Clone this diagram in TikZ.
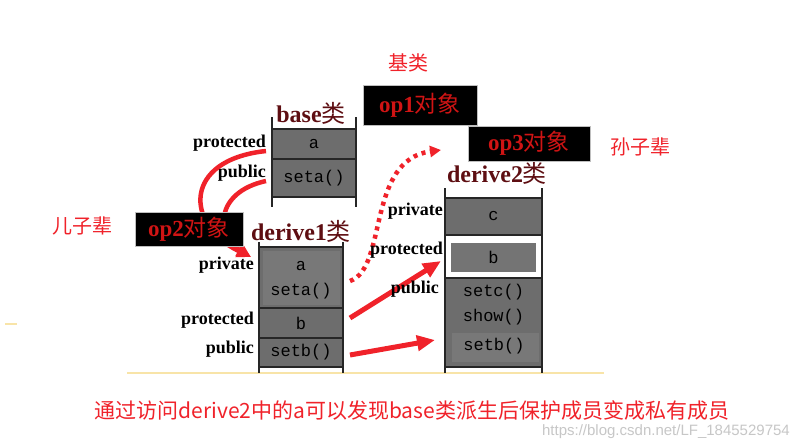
\documentclass[tikz,border=0pt]{standalone}
\usepackage{fontspec}
\setmainfont{Liberation Serif}
\newfontfamily\cjk{Noto Sans CJK SC}
\newfontfamily\monof{Liberation Mono}
\newfontfamily\sansf{Liberation Sans}
\usetikzlibrary{arrows.meta}
\definecolor{cellgray}{HTML}{6D6D6D}
\definecolor{innergray}{HTML}{787878}
\definecolor{maroon}{HTML}{5E0E12}
\definecolor{opred}{HTML}{D01414}
\definecolor{annred}{HTML}{F0222A}
\definecolor{paleyellow}{HTML}{F8E4A8}
\newcommand{\zhm}[1]{{\mdseries\cjk #1}}
\tikzset{
  cell/.style={draw=black!85, line width=2.5pt, fill=cellgray, inner sep=0pt, outer sep=0pt,
    font=\monof\fontsize{17}{19}\selectfont, text=black},
  inner/.style={fill=innergray, draw=none, inner sep=0pt},
  side/.style={line width=2.5pt, black!85},
  title/.style={text=maroon, font=\bfseries\fontsize{24}{26}\selectfont, inner sep=0pt},
  lab/.style={anchor=east, font=\bfseries\fontsize{18}{20}\selectfont, inner sep=0pt},
  opbox/.style={fill=black, draw=gray!50, line width=0.6pt, text=opred, inner sep=0pt,
    font=\bfseries\fontsize{23}{25}\selectfont},
  ann/.style={text=annred, font=\cjk\fontsize{20}{22}\selectfont, inner sep=0pt},
  redarrow/.style={annred, line width=5pt, -{Triangle[length=18pt,width=15pt]}},
  curvearrow/.style={annred, line width=4.5pt, -{Triangle[length=14pt,width=13pt]}},
  dotarrow/.style={annred, line width=4.5pt, dash pattern=on 4pt off 4.5pt, -{Triangle[length=11pt,width=11pt]}},
  txt/.style={inner sep=0pt, font=\monof\fontsize{17}{19}\selectfont, text=black}
}
\begin{document}
\begin{tikzpicture}[x=1pt,y=-1pt]
\useasboundingbox (0,0) rectangle (801,447);
\fill[white] (0,0) rectangle (801,447);

% faint yellow rules
\draw[paleyellow, line width=1.5pt] (127,373) -- (604,373);
\draw[paleyellow, line width=1.2pt] (5,324) -- (17,324);

% ---- base class ----
\node[title] (tbase) at (311,113) {base\zhm{类}};
\node[cell, minimum width=84pt, minimum height=30pt] (ba) at (314,144) {a};
\node[cell, minimum width=84pt, minimum height=38pt] (bseta) at (314,178) {seta()};
\draw[side] (272,117) -- (272,207);
\draw[side] (356,117) -- (356,207);
\node[lab] (lbprot) at (266,143) {protected};
\node[lab] (lbpub) at (266,173) {public};

% ---- derive1 ----
\node[title] (td1) at (301,231) {derive1\zhm{类}};
\node[cell, minimum width=84pt, minimum height=61pt] (d1a) at (301,277.5) {};
\node[inner, minimum width=77pt, minimum height=54pt] (d1in) at (301,278) {};
\node[txt] (d1ta) at (301,266) {a};
\node[txt] (d1tseta) at (301,291) {seta()};
\node[cell, minimum width=84pt, minimum height=30pt] (d1b) at (301,323) {b};
\node[cell, minimum width=84pt, minimum height=29pt] (d1setb) at (301,352.5) {setb()};
\draw[side] (259,242) -- (259,373);
\draw[side] (343,242) -- (343,373);
\node[lab] (l1priv) at (254,265) {private};
\node[lab] (l1prot) at (254,320) {protected};
\node[lab] (l1pub) at (254,349) {public};

% ---- derive2 ----
\node[title] (td2) at (497,173) {derive2\zhm{类}};
\node[cell, minimum width=97pt, minimum height=37pt] (d2c) at (493.5,216.5) {c};
\node[cell, fill=white, minimum width=97pt, minimum height=43pt] (d2w) at (493.5,256.5) {};
\node[inner, fill=cellgray!95!white, minimum width=85pt, minimum height=29pt, txt] (d2b) at (493.5,257.5) {b};
\node[cell, minimum width=97pt, minimum height=89pt] (d2pub) at (493.5,322.5) {};
\node[inner, minimum width=87pt, minimum height=29pt] (d2in) at (495,347.5) {};
\node[txt] (d2setc) at (493.5,292) {setc()};
\node[txt] (d2show) at (493.5,317) {show()};
\node[txt] (d2setb) at (494,346) {setb()};
\draw[side] (445,188) -- (445,373);
\draw[side] (542,188) -- (542,373);

% ---- arrows ----
\coordinate (dotS) at (350,281);
\coordinate (dotE) at (441,150);
\draw[dotarrow] (dotS) .. controls (388,268) and (366,160) .. (dotE);
\coordinate (a1S) at (350,318);
\coordinate (a1E) at (441,261);
\coordinate (a2S) at (350,355);
\coordinate (a2E) at (435,340);
\draw[redarrow] (a1S) -- (a1E);
\draw[redarrow] (a2S) -- (a2E);

\node[lab] (l2priv) at (443,211) {private};
\node[lab] (l2prot) at (443,250) {protected};
\node[lab] (l2pub) at (439,289) {public};

% curved arrows from base to derive1
\coordinate (c1S) at (266,151);
\coordinate (c2S) at (266,181);
\coordinate (cE) at (251,257);
\draw[curvearrow] (c1S) .. controls (182,160) and (185,225) .. (cE);
\draw[curvearrow] (c2S) .. controls (215,192) and (215,235) .. (cE);

% ---- object boxes ----
\node[opbox, minimum width=122pt, minimum height=35pt] (op3) at (529,143.5) {op3\zhm{对象}};
\node[opbox, minimum width=114pt, minimum height=40pt] (op1) at (420,105) {op1\zhm{对象}};
\node[opbox, minimum width=108pt, minimum height=34pt] (op2) at (189,229) {op2\zhm{对象}};

% ---- annotations ----
\node[ann] (njl) at (408,63) {基类};
\node[ann] (nsz) at (640,147) {孙子辈};
\node[ann] (nez) at (82,226) {儿子辈};
\node[ann, font=\cjk\fontsize{21}{23}\selectfont] (note) at (412,410) {通过访问derive2中的a可以发现base类派生后保护成员变成私有成员};
\node[inner sep=0pt, anchor=east, text=black!22, font=\sansf\fontsize{15}{17}\selectfont] (wm) at (790,432) {https://blog.csdn.net/LF\_1845529754};
\end{tikzpicture}
\end{document}
